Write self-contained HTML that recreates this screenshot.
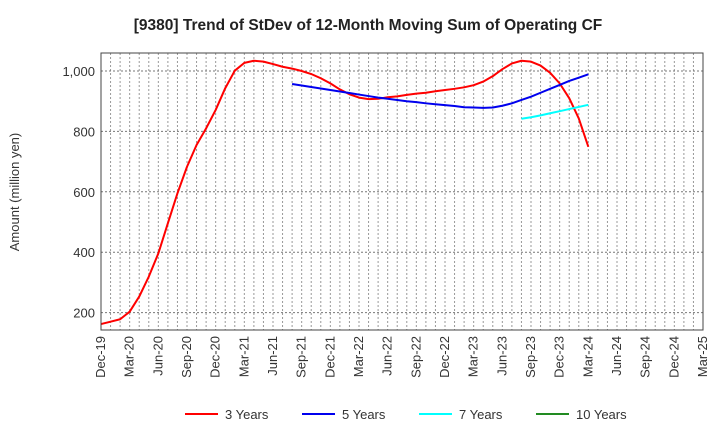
<!DOCTYPE html>
<html><head><meta charset="utf-8"><style>
body{margin:0;background:#fff;font-family:"Liberation Sans",sans-serif}
</style></head><body>
<svg id="chart" width="720" height="440" xmlns="http://www.w3.org/2000/svg" font-family="Liberation Sans, sans-serif">
<text x="368" y="30" text-anchor="middle" font-size="15.5" font-weight="bold" fill="#222">[9380]  Trend of StDev of 12-Month Moving Sum of Operating CF</text>
<text transform="translate(19,192) rotate(-90)" text-anchor="middle" font-size="13" fill="#333">Amount (million yen)</text>
<g id="grid"></g><g id="series"></g><g id="axes"></g>
<g id="legend"></g>
</svg>
<script>
const xLabels=["Dec-19","Mar-20","Jun-20","Sep-20","Dec-20","Mar-21","Jun-21","Sep-21","Dec-21","Mar-22","Jun-22","Sep-22","Dec-22","Mar-23","Jun-23","Sep-23","Dec-23","Mar-24","Jun-24","Sep-24","Dec-24","Mar-25"];
const yTicks=[200,400,600,800,1000];
const s3=[162,170,178,203,253,319,396,496,595,683,755,810,871,943,1001,1027,1034,1031,1023,1014,1008,1000,990,976,959,939,923,912,907,908,913,916,921,925,928,933,937,941,946,953,965,983,1006,1025,1034,1031,1018,994,959,910,843,749];
const s5Start=20;
const s5=[957,952,947,942,937,932,927,922,917,912,908,904,900,897,893,890,887,884,880,879,878,879,885,893,904,915,928,941,954,967,978,989];
const s7Start=44;
const s7=[842,847,853,860,867,874,881,888];
const s10=[];
const L=101,R=703,T=53,B=330,NM=63;
const X=m=>L+m*(R-L)/NM;
const Y=v=>71+(1000-v)*60.4/200;
const NS="http://www.w3.org/2000/svg";
function mk(t,a,p){const e=document.createElementNS(NS,t);for(const k in a)e.setAttribute(k,a[k]);p.appendChild(e);return e;}
const grid=document.getElementById('grid'),axes=document.getElementById('axes'),ser=document.getElementById('series'),leg=document.getElementById('legend');
for(let m=1;m<NM;m++){const g=mk('line',{x1:X(m),x2:X(m),y1:T,y2:B,stroke:'#999','stroke-dasharray':'2,2','stroke-width':1},grid);

}
yTicks.forEach(v=>{const g=mk('line',{x1:L,x2:R,y1:Y(v),y2:Y(v),stroke:'#777','stroke-dasharray':'2,2','stroke-width':1},grid);


const t=mk('text',{x:L-6,y:Y(v)+5,'text-anchor':'end','font-size':13,fill:'#333'},axes);t.textContent=v.toLocaleString('en-US');

});
const fr=mk('rect',{x:L,y:T,width:R-L,height:B-T,fill:'none',stroke:'#444','stroke-width':1},axes);


xLabels.forEach((l,i)=>{const x=X(i*3);const t=mk('text',{transform:`translate(${x+4},${B+6}) rotate(-90)`,'text-anchor':'end','font-size':13,fill:'#333'},axes);t.textContent=l;

});
function line(arr,start,color,name){if(!arr.length)return;const p=mk('polyline',{points:arr.map((v,i)=>X(start+i)+','+Y(v)).join(' '),fill:'none',stroke:color,'stroke-width':2,'stroke-linejoin':'round'},ser);

}
line(s3,0,'#ff0000','series-3-years');
line(s5,s5Start,'#0000ee','series-5-years');
line(s7,s7Start,'#00ffff','series-7-years');
line(s10,0,'#228b22','series-10-years');
const items=[["3 Years","#ff0000",185],["5 Years","#0000ee",302],["7 Years","#00ffff",419],["10 Years","#228b22",536]];
items.forEach(([n,c,x])=>{const g=mk('g',{},leg);


mk('line',{x1:x,x2:x+33,y1:414,y2:414,stroke:c,'stroke-width':2},g);
const t=mk('text',{x:x+40,y:419,'font-size':13,fill:'#333'},g);t.textContent=n;});
</script>
</body></html>
